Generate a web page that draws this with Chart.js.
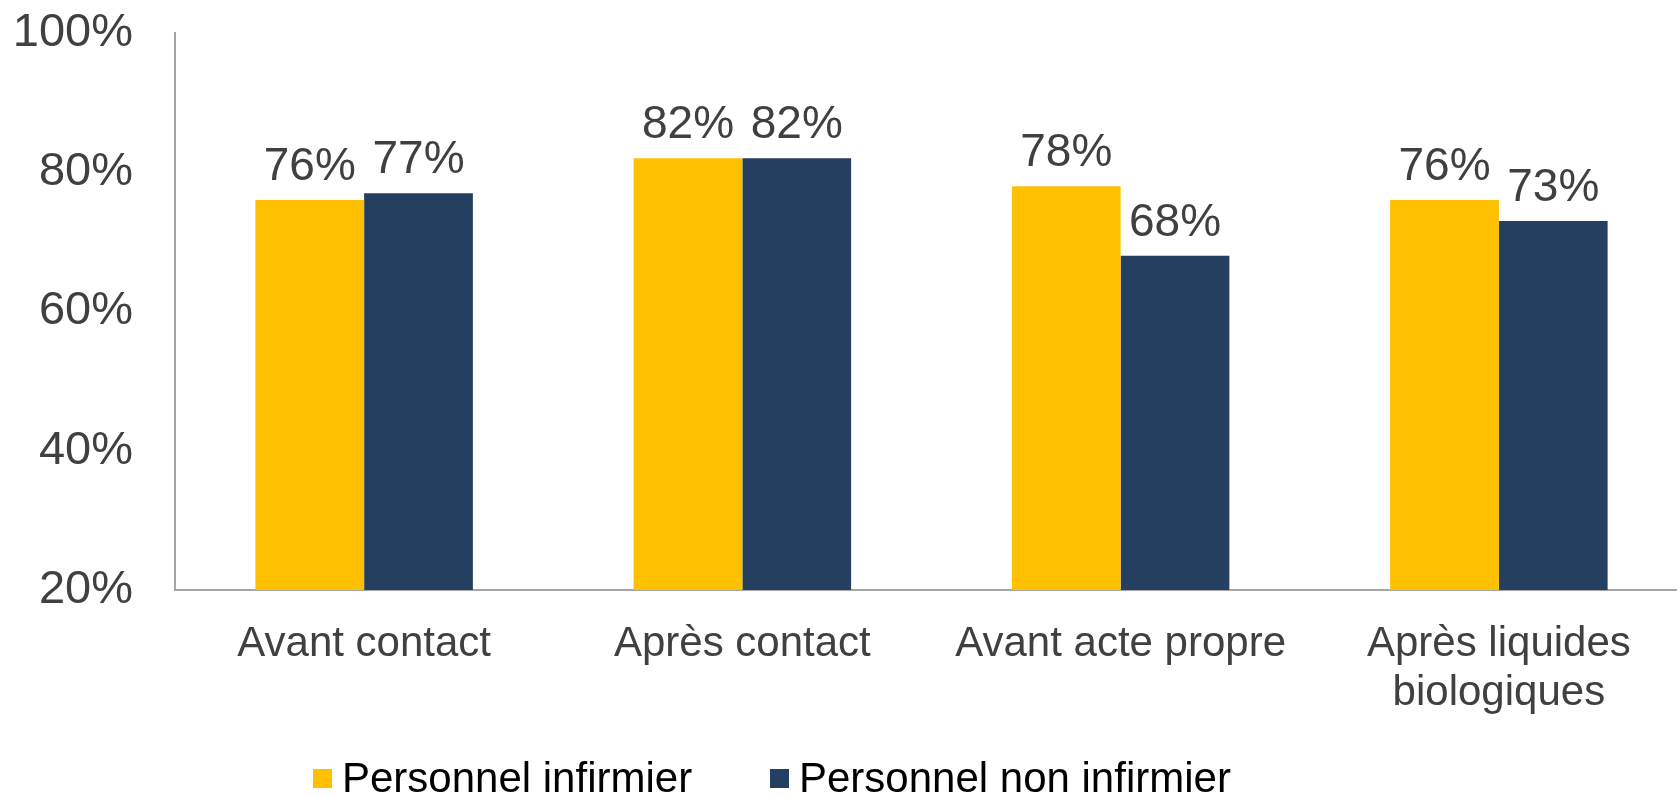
<!DOCTYPE html>
<html>
<head>
<meta charset="utf-8">
<script src="https://cdn.jsdelivr.net/npm/chart.js@4/dist/chart.umd.min.js"></script>
<style>
  html, body { margin: 0; padding: 0; background: #fff; overflow: hidden; width: 1677px; height: 796px; }
  #wrap { position: absolute; left: 0; top: 0; width: 1688px; height: 796px; }
  #legend { position: absolute; top: 753px; left: 0; width: 1677px; height: 50px; font-family: "Liberation Sans", Arial, sans-serif; font-size: 42px; color: #000; }
  .item { position: absolute; top: 0; height: 50px; line-height: 50px; white-space: nowrap; }
  .sw { position: absolute; width: 19px; height: 19px; top: 16px; left: 0; }
  .tx { position: absolute; left: 29px; top: 0; }
</style>
</head>
<body>
<div id="wrap"><canvas id="c" width="1688" height="796"></canvas></div>
<div id="legend"></div>
<script>
const categories = [["Avant contact"], ["Après contact"], ["Avant acte propre"], ["Après liquides", "biologiques"]];
const seriesNames = ["Personnel infirmier", "Personnel non infirmier"];
const nurseValues = [76, 82, 78, 76];
const nonNurseValues = [77, 82, 68, 73];
const yTicks = [20, 40, 60, 80, 100];
const colors = ["#FFC000", "#243F60"];

const dataLabels = {
  id: 'dataLabels',
  afterDatasetsDraw(chart) {
    const ctx = chart.ctx;
    ctx.save();
    ctx.font = '46px "Liberation Sans", Arial, sans-serif';
    ctx.fillStyle = '#404040';
    ctx.textAlign = 'center';
    ctx.textBaseline = 'alphabetic';
    chart.data.datasets.forEach((ds, di) => {
      chart.getDatasetMeta(di).data.forEach((bar, i) => {
        ctx.fillText(ds.data[i] + '%', bar.x, bar.y - 20);
      });
    });
    ctx.restore();
  }
};

new Chart(document.getElementById('c'), {
  type: 'bar',
  data: {
    labels: categories,
    datasets: [
      { label: seriesNames[0], data: nurseValues, backgroundColor: colors[0] },
      { label: seriesNames[1], data: nonNurseValues, backgroundColor: colors[1] }
    ]
  },
  options: {
    responsive: false,
    animation: false,
    devicePixelRatio: 1,
    layout: { padding: { top: 0, left: 0, right: 0, bottom: 0 } },
    datasets: { bar: { categoryPercentage: 0.575, barPercentage: 1.0 } },
    plugins: { legend: { display: false }, tooltip: { enabled: false } },
    scales: {
      x: {
        grid: { display: false, drawTicks: false },
        border: { display: true, color: '#A6A6A6', width: 2 },
        ticks: {
          color: '#404040',
          font: { family: '"Liberation Sans", Arial, sans-serif', size: 42, lineHeight: 1.17 },
          padding: 30,
          maxRotation: 0,
          autoSkip: false
        },
        afterFit(scale) { scale.height = 206; }
      },
      y: {
        min: 20, max: 100,
        afterBuildTicks(scale) { scale.ticks = yTicks.map(v => ({ value: v })); },
        grid: { display: false, drawTicks: false },
        border: { display: true, color: '#A6A6A6', width: 2 },
        ticks: {
          color: '#404040',
          font: { family: '"Liberation Sans", Arial, sans-serif', size: 47 },
          padding: 42,
          callback: v => v + '%'
        },
        afterFit(scale) { scale.width = 175; scale.paddingTop = 33; scale.paddingBottom = 0; }
      }
    }
  },
  plugins: [dataLabels]
});

const legend = document.getElementById('legend');
const legendLefts = [313, 770];
seriesNames.forEach((name, i) => {
  const it = document.createElement('div');
  it.className = 'item';
  it.style.left = legendLefts[i] + 'px';
  const sw = document.createElement('span');
  sw.className = 'sw';
  sw.style.background = colors[i];
  const tx = document.createElement('span');
  tx.className = 'tx';
  tx.textContent = name;
  it.appendChild(sw); it.appendChild(tx);
  legend.appendChild(it);
});
</script>
</body>
</html>
